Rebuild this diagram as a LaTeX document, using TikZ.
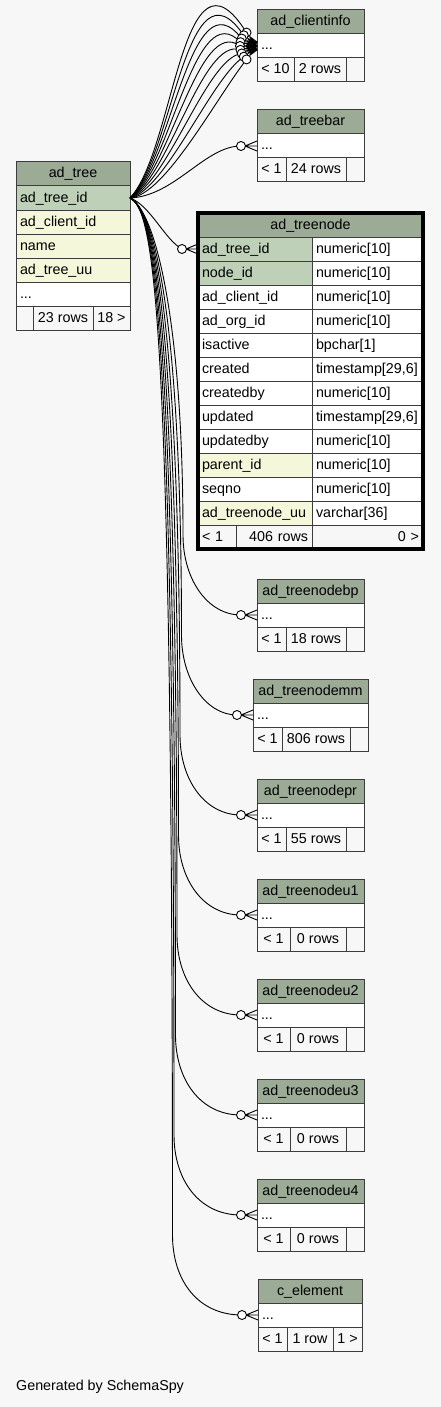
\documentclass[tikz,border=0pt]{standalone}
\usepackage{fontspec}
\setmainfont{Liberation Sans}
\usetikzlibrary{positioning,calc,fit}

\definecolor{bgcol}{HTML}{F7F7F7}
\definecolor{hdrcol}{HTML}{9BAB96}
\definecolor{pkcol}{HTML}{BED1B8}
\definecolor{idxcol}{HTML}{F4F7DA}
\definecolor{edgecol}{HTML}{3C3C3C}

\tikzset{
  tblcell/.style={draw=edgecol, line width=1pt, minimum height=24pt, inner xsep=4pt, inner ysep=0pt,
    outer sep=0pt, text height=10.5pt, text depth=2.5pt, anchor=north west},
  tblhead/.style={tblcell, fill=hdrcol, align=center},
  tblrow/.style={tblcell, fill=white, align=left},
  tblfoot/.style={tblcell, fill=bgcol, align=center},
  fkline/.style={line width=0.9pt},
  fkdot/.style={circle, draw, line width=0.9pt, fill=white, minimum size=9pt, inner sep=0pt},
}

\begin{document}
\begin{tikzpicture}[x=1pt, y=-1pt, font=\fontsize{14.3pt}{17pt}\selectfont]
\useasboundingbox (0,0) rectangle (441,1407);
\fill[bgcol] (0,0) rectangle (441,1407);

% --------
% ad_tree
% --------
\node[tblhead, minimum width=114pt] at (16,162) (tree) {ad\_tree};
\node[tblrow, fill=pkcol, text width=106pt, below=0pt of tree] (tree-id) {ad\_tree\_id};
\node[tblrow, fill=idxcol, text width=106pt, below=0pt of tree-id] (tree-client) {ad\_client\_id};
\node[tblrow, fill=idxcol, text width=106pt, below=0pt of tree-client] (tree-name) {name};
\node[tblrow, fill=idxcol, text width=106pt, below=0pt of tree-name] (tree-uu) {ad\_tree\_uu};
\node[tblrow, text width=106pt, below=0pt of tree-uu] (tree-dots) {...};
\node[tblfoot, minimum width=17pt] at (tree-dots.south west) (tree-f1) {};
\node[tblfoot, minimum width=60pt, right=0pt of tree-f1] (tree-f2) {23 rows};
\node[tblfoot, minimum width=37pt, right=0pt of tree-f2] (tree-f3) {18 >};

% --------
% ad_treenode
% --------
\node[tblhead, minimum width=225pt] at (198,213) (tn) {ad\_treenode};
\foreach \cn/\ct/\cf [count=\i] in {ad\_tree\_id/numeric[10]/pkcol, node\_id/numeric[10]/pkcol,
    ad\_client\_id/numeric[10]/white, ad\_org\_id/numeric[10]/white, isactive/bpchar[1]/white,
    created/{timestamp[29,6]}/white, createdby/numeric[10]/white, updated/{timestamp[29,6]}/white,
    updatedby/numeric[10]/white, parent\_id/numeric[10]/idxcol, seqno/numeric[10]/white,
    ad\_treenode\_uu/varchar[36]/idxcol}{
  \node[tblrow, fill=\cf, text width=106pt] at (198,213+24*\i) (tn-r\i) {\cn};
  \node[tblrow, text width=103pt] at (312,213+24*\i) (tn-t\i) {\ct};
}
\node[tblfoot, text width=30pt, align=left] at (198,525) (tn-f1) {< 1};
\node[tblfoot, text width=68pt, align=right, right=0pt of tn-f1] (tn-f2) {406 rows};
\node[tblfoot, text width=103pt, align=right, right=0pt of tn-f2] (tn-f3) {0 >};
\node[draw=black, line width=3.3pt, inner sep=0pt, fit=(tn) (tn-f3)] (tn-frame) {};

% --------
% small tables
% --------
\foreach \tn/\ttl/\tx/\ty/\tw/\fa/\wa/\fb/\wb/\fc/\wc in {
    ci/ad\_clientinfo/257/10/107/< 10/37/2 rows/52//18,
    bar/ad\_treebar/257/110/107/< 1/29/24 rows/60//18,
    bp/ad\_treenodebp/257/579/107/< 1/29/18 rows/60//18,
    mm/ad\_treenodemm/253/679/115/< 1/29/806 rows/68//18,
    pr/ad\_treenodepr/257/779/107/< 1/29/55 rows/60//18,
    u1/ad\_treenodeu1/257/879/107/< 1/33/0 rows/56//18,
    u2/ad\_treenodeu2/257/979/107/< 1/33/0 rows/56//18,
    u3/ad\_treenodeu3/257/1079/107/< 1/33/0 rows/56//18,
    u4/ad\_treenodeu4/257/1179/107/< 1/33/0 rows/56//18,
    el/c\_element/258/1279/104/< 1/29/1 row/46/1 >/29}{
  \pgfmathsetmacro\dw{\tw-8}
  \node[tblhead, minimum width=\tw pt] at (\tx,\ty) (\tn) {\ttl};
  \node[tblrow, text width=\dw pt, below=0pt of \tn] (\tn-dots) {...};
  \node[tblfoot, minimum width=\wa pt] at (\tn-dots.south west) (\tn-f1) {\fa};
  \node[tblfoot, minimum width=\wb pt, right=0pt of \tn-f1] (\tn-f2) {\fb};
  \node[tblfoot, minimum width=\wc pt, right=0pt of \tn-f2] (\tn-f3) {\fc};
}

% Draw line
\foreach \k [evaluate=\k as \th using 52-13*\k] in {0,...,8}{
  \draw[fkline] (tree-id.east) .. controls (175-1.25*\k,150+5.625*\k) and (182+4.125*\k,-70+21.25*\k)
    .. ($(ci-dots.west)+({-17*cos(\th)},{-17*sin(\th)})$);
}
\foreach \k [evaluate=\k as \th using 52-13*\k] in {0,...,8}{
  \draw[fkline] ($(ci-dots.west)+({-12*cos(\th)},{-12*sin(\th)})$) -- ([yshift=4pt]ci-dots.west)
    ($(ci-dots.west)+({-12*cos(\th)},{-12*sin(\th)})$) -- (ci-dots.west)
    ($(ci-dots.west)+({-12*cos(\th)},{-12*sin(\th)})$) -- ([yshift=-4pt]ci-dots.west);
  \node[fkdot] at ($(ci-dots.west)+({-17*cos(\th)},{-17*sin(\th)})$) (ci-o\k) {};
}

\draw[fkline] (tree-id.east) .. controls (175,196) and (205,146) .. ([xshift=-16pt]bar-dots.west);
\draw[fkline] (tree-id.east) .. controls (150,205) and (165,240) .. ([xshift=-16pt]tn-r1.west);
\foreach \tn/\ty/\vx in {bp/615/183, mm/715/181.5, pr/815/180, u1/915/178.5,
    u2/1015/177, u3/1115/175.5, u4/1215/174, el/1315/172.5}{
  \draw[fkline] (tree-id.east) .. controls (155,210) and (\vx,320) .. (\vx,\ty-80)
    .. controls (\vx,\ty-35) and (\vx+25,\ty) .. ([xshift=-16pt]\tn-dots.west);
}

\foreach \n in {bar-dots, tn-r1, bp-dots, mm-dots, pr-dots, u1-dots, u2-dots, u3-dots, u4-dots, el-dots}{
  \draw[fkline] ([xshift=-12pt]\n.west) -- ([yshift=5pt]\n.west)
    ([xshift=-12pt]\n.west) -- (\n.west)
    ([xshift=-12pt]\n.west) -- ([yshift=-5pt]\n.west);
  \node[fkdot] at ([xshift=-16pt]\n.west) (\n-o) {};
}

\node[anchor=west, inner sep=0pt] at (16,1387) (gen) {Generated by SchemaSpy};
\end{tikzpicture}
\end{document}
